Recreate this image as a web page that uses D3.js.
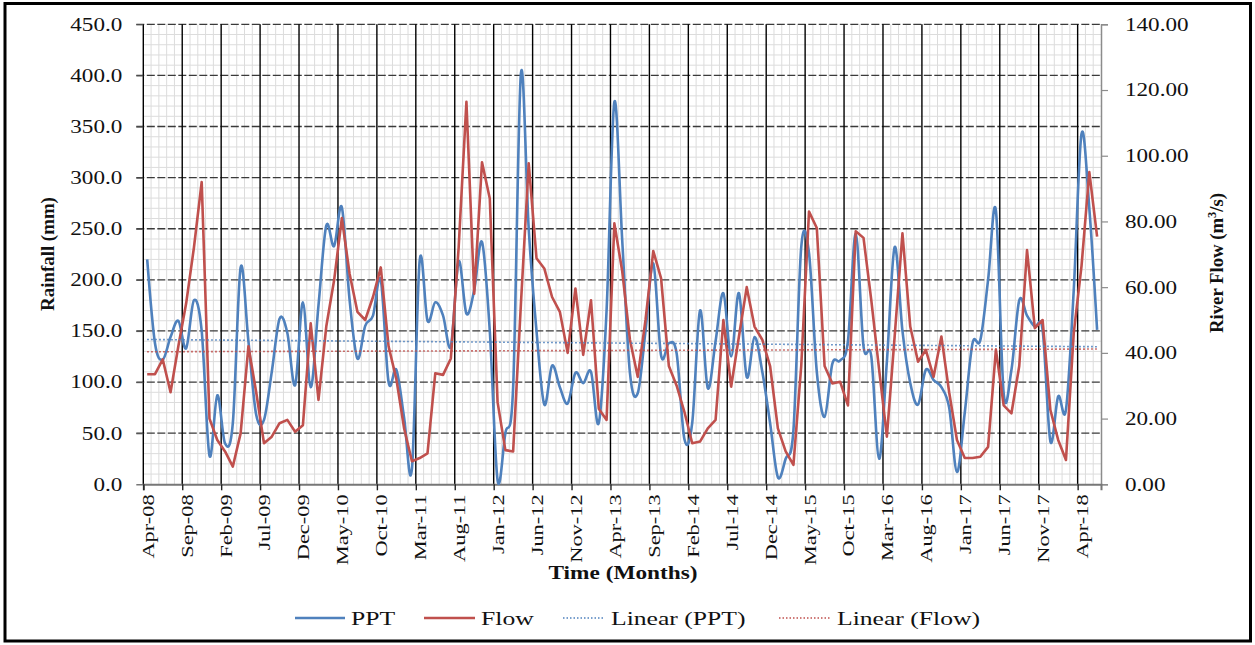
<!DOCTYPE html>
<html>
<head>
<meta charset="utf-8">
<script src="https://cdn.jsdelivr.net/npm/d3@7/dist/d3.min.js"></script>
<style>
  html, body { margin: 0; padding: 0; background: #fff; }
  svg { display: block; }
  text { font-family: "Liberation Serif", "Times New Roman", serif; fill: #111; }
</style>
</head>
<body>
<svg id="chart" width="1255" height="645"></svg>
<script>
// Monthly categories, Apr-2008 .. Jun-2018
const categories = d3.timeMonth.range(new Date(2008, 3, 1), new Date(2018, 6, 1));

const xTickLabels = ["Apr-08","Sep-08","Feb-09","Jul-09","Dec-09","May-10","Oct-10","Mar-11",
  "Aug-11","Jan-12","Jun-12","Nov-12","Apr-13","Sep-13","Feb-14","Jul-14","Dec-14","May-15",
  "Oct-15","Mar-16","Aug-16","Jan-17","Jun-17","Nov-17","Apr-18"];

// Monthly rainfall (mm)
const ppt = [220,138,122,144,160,133,180,150,28,87,40,60,212,140,68,63,110,162,148,97,
  178,95,175,253,233,271,180,123,155,165,200,100,112,65,15,219,160,178,165,135,
  218,167,190,237,150,4,50,95,402,250,150,78,116,95,79,109,99,110,60,170,
  374,240,109,89,150,216,126,138,128,44,60,170,94,140,187,125,187,105,144,110,
  60,7,25,53,232,226,110,66,118,121,140,245,135,125,25,120,232,150,99,78,
  112,102,95,75,12,70,138,141,200,268,89,112,180,165,154,151,42,86,73,190,
  343,270,151];

// Monthly river flow (m3/s)
const flow = [33.5,33.5,38,28,42,55,72,92,20,13.5,10,5.4,15.5,42,28,12.5,14.5,18.6,19.6,16,
  18,49,25.7,48,62,81,64,52.5,50,57,66,42,32,17,7,8,9.4,33.8,33.3,38.3,
  72,116.4,58,98,87,25,10.4,10,55,97.7,68.8,65.7,57,52.5,40,59.6,39.4,56,23,19.6,
  79.4,65,44,32.7,50,71,62.7,36,30,22,12.5,13,17,19.6,50,29.7,45,60,48,44,
  36,17,10,5.9,36,83,78,36,30.7,31.2,24,77,75,56,35,14.5,45,76.4,48,37.3,
  40.9,32.7,45,28,13.5,8,8,8.4,11.4,41,24,21.6,36,71.3,47.5,50,22.6,13.5,7.4,46,
  66.5,95,75.4];

const leftTicks = d3.range(0, 451, 50);
const rightTicks = d3.range(0, 141, 20);

const plot = { left: 143.3, right: 1101, top: 24.3, bottom: 484.3 };
const n = categories.length;

const svg = d3.select("#chart");

// horizontal stretch applied to glyphs along the text direction
const STRETCH = 1.25;

const x = d3.scaleLinear().domain([0, n]).range([plot.left, plot.right]);
const yL = d3.scaleLinear().domain([0, 450]).range([plot.bottom, plot.top]);
const yR = d3.scaleLinear().domain([0, 140]).range([plot.bottom, plot.top]);
const cx = i => x(i + 0.5);

// outer frame
svg.append("rect").attr("x", 5).attr("y", 3.5).attr("width", 1245.5).attr("height", 637.5)
  .attr("fill", "none").attr("stroke", "#000").attr("stroke-width", 3);

const grid = svg.append("g");

// minor grid
d3.range(1, n).filter(k => k % 5 !== 0).forEach(k => {
  grid.append("line").attr("x1", x(k)).attr("x2", x(k)).attr("y1", plot.top).attr("y2", plot.bottom)
    .attr("stroke", "#dcdcdc").attr("stroke-width", 1);
});
d3.range(0, 451, 10).filter(v => v % 50 !== 0).forEach(v => {
  grid.append("line").attr("x1", plot.left).attr("x2", plot.right).attr("y1", yL(v)).attr("y2", yL(v))
    .attr("stroke", "#dcdcdc").attr("stroke-width", 1);
});

// major horizontal grid (dashed)
leftTicks.forEach(v => {
  if (v === 0) return;
  grid.append("line").attr("x1", plot.left - 7).attr("x2", plot.right).attr("y1", yL(v)).attr("y2", yL(v))
    .attr("stroke", "#3a3a3a").attr("stroke-width", 1.3).attr("stroke-dasharray", "8,2.5");
});

// major vertical grid
d3.range(0, n, 5).forEach(k => {
  grid.append("line").attr("x1", x(k)).attr("x2", x(k)).attr("y1", plot.top).attr("y2", plot.bottom)
    .attr("stroke", "#000").attr("stroke-width", 1.4);
});

function stretchText(sel, k) {
  sel.each(function () {
    const t = d3.select(this);
    const tx = +t.attr("x") || 0;
    t.attr("x", 0).attr("transform", `translate(${tx},0) scale(${k},1)`);
  });
}

// left axis
const gL = svg.append("g").attr("transform", `translate(${plot.left},0)`)
  .call(d3.axisLeft(yL).tickValues(leftTicks).tickFormat(d3.format(".1f")).tickSize(7).tickPadding(14));
gL.select(".domain").remove();
gL.selectAll(".tick line").attr("stroke", "#555").attr("stroke-width", 1.2);
gL.selectAll(".tick text").attr("font-size", 18.5).attr("fill", "#111")
  .style("font-family", '"Liberation Serif", "Times New Roman", serif');
stretchText(gL.selectAll(".tick text"), STRETCH);

// right axis
const gR = svg.append("g").attr("transform", `translate(${plot.right},0)`)
  .call(d3.axisRight(yR).tickValues(rightTicks).tickFormat(d3.format(".2f")).tickSize(7).tickPadding(17));
gR.select(".domain").attr("stroke", "#8c8c8c").attr("stroke-width", 1.5);
gR.selectAll(".tick line").attr("stroke", "#8c8c8c").attr("stroke-width", 1.2);
gR.selectAll(".tick text").attr("font-size", 18.5).attr("fill", "#111")
  .style("font-family", '"Liberation Serif", "Times New Roman", serif');
stretchText(gR.selectAll(".tick text"), STRETCH);

// bottom axis: ticks on category boundaries, labels on category centres
const gB = svg.append("g").attr("transform", `translate(0,${plot.bottom})`)
  .call(d3.axisBottom(x).tickValues(d3.range(0, n, 5)).tickFormat("").tickSize(6));
gB.select(".domain").attr("stroke", "#777").attr("stroke-width", 2);
gB.selectAll(".tick line").attr("stroke", "#222").attr("stroke-width", 1.4);

const gBL = svg.append("g").attr("transform", `translate(0,${plot.bottom})`)
  .call(d3.axisBottom(x).tickValues(d3.range(0, n, 5).map(k => k + 0.5))
    .tickFormat((d, i) => xTickLabels[i]).tickSize(0));
gBL.select(".domain").remove();
gBL.selectAll(".tick text")
  .attr("font-size", 17).attr("fill", "#111")
  .style("font-family", '"Liberation Serif", "Times New Roman", serif')
  .attr("text-anchor", "end").attr("x", 0).attr("y", 0).attr("dy", null)
  .attr("transform", "translate(6,10) rotate(-90) scale(1.32,1)");

// series
const linePPT = d3.line().x((d, i) => cx(i)).y(d => yL(d)).curve(d3.curveCatmullRom.alpha(0));
const lineFlow = d3.line().x((d, i) => cx(i)).y(d => yR(d));

const PPT_COLOR = "#4f81bd", FLOW_COLOR = "#c0504d";

svg.append("path").datum(ppt).attr("d", linePPT).attr("fill", "none")
  .attr("stroke", PPT_COLOR).attr("stroke-width", 2.6).attr("stroke-linejoin", "round");
svg.append("path").datum(flow).attr("d", lineFlow).attr("fill", "none")
  .attr("stroke", FLOW_COLOR).attr("stroke-width", 2.6).attr("stroke-linejoin", "round");

// least-squares linear trends
function linearFit(values) {
  const m = values.length;
  const xs = d3.range(1, m + 1);
  const mx = d3.mean(xs), my = d3.mean(values);
  let sxy = 0, sxx = 0;
  xs.forEach((xv, i) => { sxy += (xv - mx) * (values[i] - my); sxx += (xv - mx) * (xv - mx); });
  const b = sxy / sxx, a = my - b * mx;
  return [a + b * xs[0], a + b * xs[m - 1]];
}
const tP = linearFit(ppt), tF = linearFit(flow);
svg.append("line").attr("x1", cx(0)).attr("x2", cx(n - 1)).attr("y1", yL(tP[0])).attr("y2", yL(tP[1]))
  .attr("stroke", PPT_COLOR).attr("stroke-width", 1.6).attr("stroke-dasharray", "1.6,2.4");
svg.append("line").attr("x1", cx(0)).attr("x2", cx(n - 1)).attr("y1", yR(tF[0])).attr("y2", yR(tF[1]))
  .attr("stroke", FLOW_COLOR).attr("stroke-width", 1.6).attr("stroke-dasharray", "1.6,2.4");

// axis titles
svg.append("text").attr("font-weight", "bold").attr("font-size", 18).attr("text-anchor", "middle")
  .attr("transform", "translate(54,254) rotate(-90) scale(1.05,1)").text("Rainfall (mm)");

const rt = svg.append("text").attr("font-weight", "bold").attr("font-size", 18).attr("text-anchor", "middle")
  .attr("transform", "translate(1223,263) rotate(-90) scale(1.04,1)");
rt.append("tspan").text("River Flow (m");
rt.append("tspan").attr("font-size", 12).attr("dy", -7).text("3");
rt.append("tspan").attr("dy", 7).text("/s)");

svg.append("text").attr("font-weight", "bold").attr("font-size", 18.5).attr("text-anchor", "middle")
  .attr("transform", "translate(623,579) scale(1.26,1)").text("Time (Months)");

// legend
const legend = [
  { label: "PPT", color: PPT_COLOR, dash: null, x1: 295, x2: 345, tx: 351 },
  { label: "Flow", color: FLOW_COLOR, dash: null, x1: 424, x2: 475, tx: 481 },
  { label: "Linear (PPT)", color: PPT_COLOR, dash: "1.5,2", x1: 563, x2: 605, tx: 611 },
  { label: "Linear (Flow)", color: FLOW_COLOR, dash: "1.5,2", x1: 779, x2: 831, tx: 837 }
];
const gLeg = svg.append("g");
legend.forEach(d => {
  gLeg.append("line").attr("x1", d.x1).attr("x2", d.x2).attr("y1", 618).attr("y2", 618)
    .attr("stroke", d.color).attr("stroke-width", d.dash ? 1.4 : 2.6)
    .attr("stroke-dasharray", d.dash);
  gLeg.append("text").attr("font-size", 19)
    .attr("transform", `translate(${d.tx},624.5) scale(1.35,1)`).text(d.label);
});
</script>
</body>
</html>
